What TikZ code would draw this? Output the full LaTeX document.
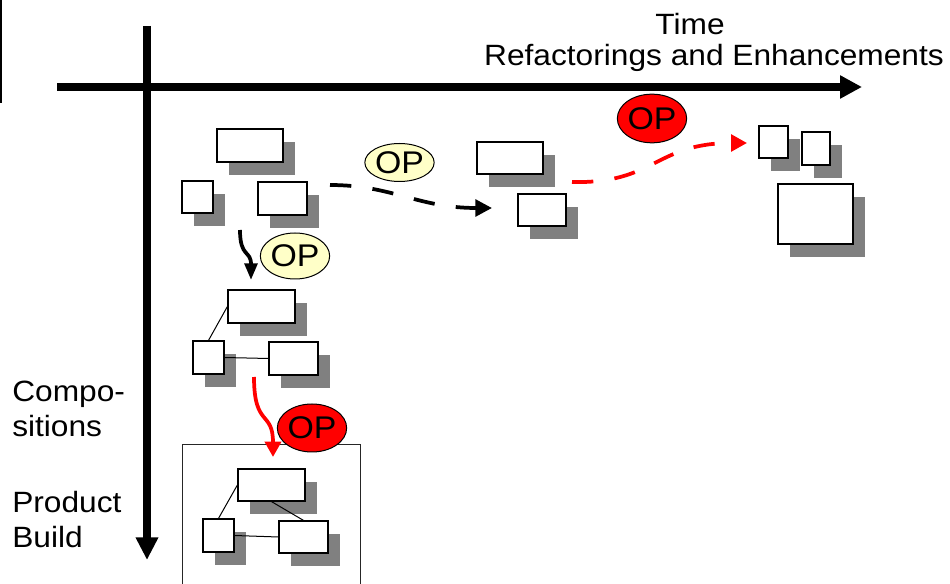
\documentclass[tikz,border=0pt]{standalone}
\usepackage{fontspec}
\setmainfont{Liberation Sans}[FakeStretch=1.08]
\usetikzlibrary{arrows.meta,shapes.geometric,shadows}
\definecolor{shade}{RGB}{128,128,128}
\definecolor{opyellow}{RGB}{255,255,200}
\definecolor{opred}{RGB}{255,0,0}
\begin{document}
\begin{tikzpicture}[x=0.75pt,y=-0.75pt,
  font=\fontsize{22}{26}\selectfont,
  comp/.style 2 args={draw=black, fill=white, line width=0.9pt, inner sep=0pt,
    minimum width={#1*0.75pt}, minimum height={#2*0.75pt},
    general shadow={fill=shade, shadow xshift=9pt, shadow yshift=-9.4pt}},
  op/.style={ellipse, draw=black, line width=0.75pt, inner sep=0pt,
    minimum width=52pt, font=\fontsize{23.5}{26}\selectfont},
  axis/.style={line width=6pt},
  flow/.style={line width=2.8pt},
  link/.style={line width=0.75pt},
  label/.style={inner sep=0pt, anchor=base west},
]
\clip (0,0) rectangle (950,584);
\useasboundingbox (0,0) rectangle (950,584);

% left border trace
\coordinate (edgetop) at (1,0);
\coordinate (edgebot) at (1,103);
\draw[shade, line width=1.2pt] (edgetop) -- (edgebot);

% axes
\coordinate (hstart) at (57,87);
\coordinate (hend) at (862,87);
\coordinate (vstart) at (147,26);
\coordinate (vend) at (147,560);
\draw[axis, -{Triangle[length=16.5pt,width=16.5pt]}] (hstart) -- (hend);
\draw[axis, -{Triangle[length=17pt,width=16pt]}] (vstart) -- (vend);

% axis captions
\node[inner sep=0pt, anchor=base] (time) at (690,35) {Time};
\node[inner sep=0pt, anchor=base] (refac) at (714,65.7) {Refactorings and Enhancements};
\node[label] (comp1) at (12,402) {Compo-};
\node[label] (comp2) at (12,437) {sitions};
\node[label] (prod1) at (12,512.3) {Product};
\node[label] (prod2) at (12,547) {Build};

% initial components
\node[comp={66}{33}] (a1) at (250,145.5) {};
\node[comp={31}{32}] (a2) at (197.5,197) {};
\node[comp={49}{33}] (a3) at (282.5,198.5) {};

% refactored components
\node[comp={66}{32}] (b1) at (510,158) {};
\node[comp={48}{32}] (b2) at (542,210) {};

% enhanced components
\node[comp={29}{32}] (c1) at (773.5,142) {};
\node[comp={28}{33}] (c2) at (816,148.5) {};
\node[comp={75}{60}] (c3) at (815.5,214) {};

% composition
\node[comp={67}{33}] (d1) at (261.5,306.5) {};
\node[comp={31}{33}] (d2) at (208.5,357.5) {};
\node[comp={49}{33}] (d3) at (293.5,358.5) {};
\draw[link] (d2.north) -- (d1.west);
\draw[link] (d2.east) -- (d3.west);

% product build frame and content
\node[draw=black!85, line width=0.75pt, inner sep=0pt, anchor=north west,
  minimum width={178*0.75pt}, minimum height={170*0.75pt}] (build) at (182,444) {};
\node[comp={67}{32}] (e1) at (271.5,485) {};
\node[comp={31}{33}] (e2) at (218.5,535.5) {};
\node[comp={49}{32}] (e3) at (303.5,537) {};
\draw[link] (e2.north) -- (e1.west);
\draw[link] (e2.east) -- (e3.west);
\draw[link] (e1.south) -- (e3.north);

% operations
\coordinate (r1s) at (330,185);
\coordinate (r1t) at (492,208);
\draw[flow, dash pattern=on 16pt off 16pt, -{Triangle[length=12.5pt,width=12.5pt]}]
  (r1s) .. controls (392,185) and (418,208) .. (r1t);

\coordinate (r2s) at (572,182);
\coordinate (r2t) at (747,143);
\draw[flow, opred, dash pattern=on 16pt off 16pt, -{Triangle[length=12pt,width=12.5pt]}]
  (r2s) .. controls (655,184) and (655,143) .. (r2t);

\coordinate (c1s) at (240,230);
\coordinate (c1t) at (251,280);
\draw[flow, -{Triangle[length=12.5pt,width=9.5pt]}]
  (c1s) .. controls (240,258) and (251,250) .. (c1t);

\coordinate (c2s) at (254,377);
\coordinate (c2t) at (273,457);
\draw[flow, opred, -{Triangle[length=11.5pt,width=12pt]}]
  (c2s) .. controls (254,428) and (273,410) .. (c2t);

\node[op, fill=opyellow, minimum height=28.5pt] (op1) at (399.5,162.5) {OP};
\node[op, fill=opyellow, minimum height=34.5pt] (op2) at (295,256) {OP};
\node[op, fill=opred, minimum height=36.5pt] (op3) at (652,118.5) {OP};
\node[op, fill=opred, minimum height=36pt] (op4) at (312,428) {OP};
\end{tikzpicture}
\end{document}
